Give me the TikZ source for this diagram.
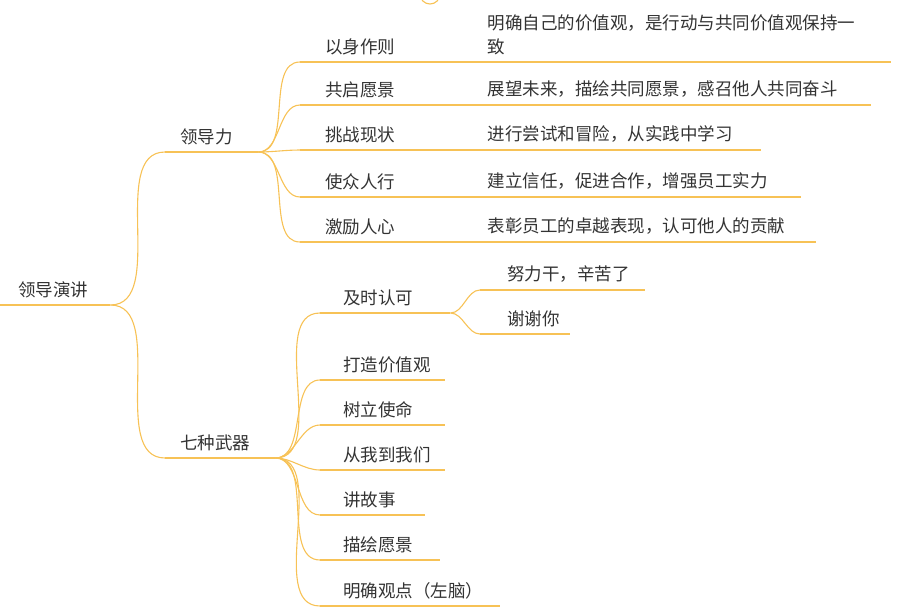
\documentclass[tikz,border=0pt]{standalone}
\usepackage{fontspec}
\setmainfont{Noto Sans CJK SC}
\usetikzlibrary{positioning}
\definecolor{branch}{HTML}{F7C256}
\definecolor{ink}{HTML}{333333}

\begin{document}
\begin{tikzpicture}[
  x=1pt, y=-1pt,
  font=\fontsize{17.5}{24}\selectfont, text=ink,
  ul/.style={draw=branch, line width=1.1pt},
  br/.style={draw=branch, line width=1.1pt, out=0, in=180, looseness=0.9},
  topic/.style={anchor=south west, align=left, inner ysep=7pt, inner xsep=0pt,
    append after command={(\tikzlastnode.south west) edge[ul] (\tikzlastnode.south east)}},
]
\useasboundingbox (0,0) rectangle (906,614);
\draw[branch, line width=1.1pt] (430,-6) circle (10);

% root
\node[topic, text width=110] (root) at (0,305) {\hspace*{18pt}领导演讲};

% 领导力
\node[topic, text width=93] (lead) at (165,152) {\hspace*{15pt}领导力};
\node[topic, text width=170] (l1) at (300,62) {\hspace*{25pt}以身作则};
\node[topic, text width=170] (l2) at (300,105) {\hspace*{25pt}共启愿景};
\node[topic, text width=170] (l3) at (300,150) {\hspace*{25pt}挑战现状};
\node[topic, text width=170] (l4) at (300,197) {\hspace*{25pt}使众人行};
\node[topic, text width=170] (l5) at (300,242) {\hspace*{25pt}激励人心};
\node[topic, text width=420] (d1) at (l1.south east) {\hspace*{17pt}明确自己的价值观，是行动与共同价值观保持一\\\hspace*{17pt}致};
\node[topic, text width=400] (d2) at (l2.south east) {\hspace*{17pt}展望未来，描绘共同愿景，感召他人共同奋斗};
\node[topic, text width=290] (d3) at (l3.south east) {\hspace*{17pt}进行尝试和冒险，从实践中学习};
\node[topic, text width=330] (d4) at (l4.south east) {\hspace*{17pt}建立信任，促进合作，增强员工实力};
\node[topic, text width=345] (d5) at (l5.south east) {\hspace*{17pt}表彰员工的卓越表现，认可他人的贡献};

% 七种武器
\node[topic, text width=110] (arms) at (165,458) {\hspace*{15pt}七种武器};
\node[topic, text width=130] (a1) at (320,313) {\hspace*{23pt}及时认可};
\node[topic, text width=125] (a2) at (320,380) {\hspace*{23pt}打造价值观};
\node[topic, text width=125] (a3) at (320,425) {\hspace*{23pt}树立使命};
\node[topic, text width=125] (a4) at (320,470) {\hspace*{23pt}从我到我们};
\node[topic, text width=105] (a5) at (320,515) {\hspace*{23pt}讲故事};
\node[topic, text width=120] (a6) at (320,560) {\hspace*{23pt}描绘愿景};
\node[topic, text width=180] (a7) at (320,606) {\hspace*{23pt}明确观点（左脑）};
\node[topic, text width=165] (t1) at (480,290) {\hspace*{27pt}努力干，辛苦了};
\node[topic, text width=90] (t2) at (480,334) {\hspace*{27pt}谢谢你};

\foreach \c in {lead,arms} \draw[br] (root.south east) to (\c.south west);
\foreach \c in {l1,l2,l3,l4,l5} \draw[br] (lead.south east) to (\c.south west);
\foreach \c in {a1,a2,a3,a4,a5,a6,a7} \draw[br] (arms.south east) to (\c.south west);
\foreach \c in {t1,t2} \draw[br] (a1.south east) to (\c.south west);
\end{tikzpicture}
\end{document}
